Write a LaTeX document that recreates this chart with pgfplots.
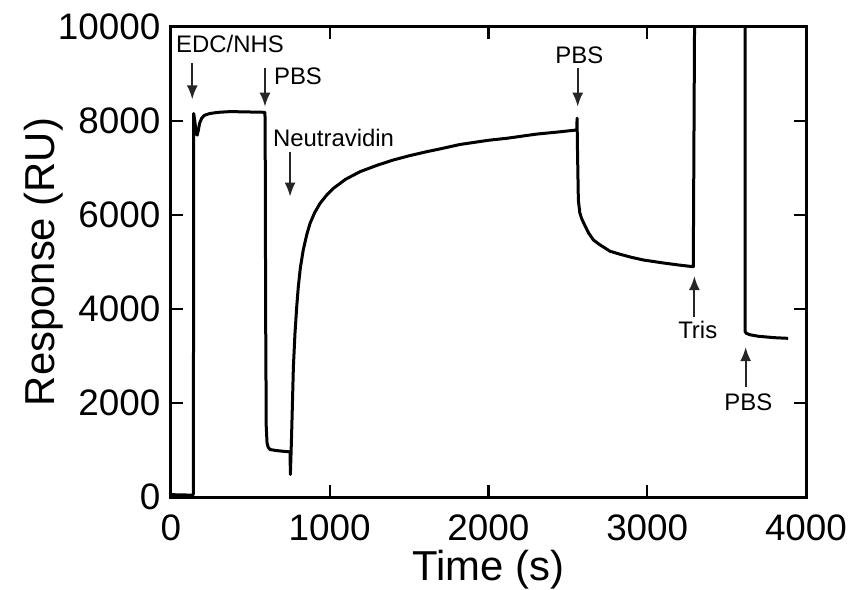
\documentclass[border=0pt]{standalone}
\usepackage{pgfplots}
\pgfplotsset{compat=1.18}
\usepackage{fontspec}
\setmainfont{Liberation Sans}
\usetikzlibrary{arrows.meta}
\begin{document}
\begin{tikzpicture}
\path[use as bounding box] (-171bp,-93bp) rectangle (689bp,497bp);
\begin{axis}[
  scale only axis, width=635bp, height=470bp,
  at={(0,0)}, anchor=south west,
  xmin=0, xmax=4000, ymin=0, ymax=10000,
  xtick={0,1000,2000,3000,4000},
  ytick={0,2000,4000,6000,8000,10000},
  minor tick num=0,
  tick align=inside,
  major tick length=12bp,
  every tick/.style={line width=2.2bp, black},
  axis line style={line width=3bp},
  /pgf/number format/assume math mode=true,
  /pgf/number format/set thousands separator={},
  ticklabel style={font=\fontsize{37}{40}\selectfont},
  xticklabel style={yshift=-14bp},
  yticklabel style={xshift=-7bp},
  scaled ticks=false,
  xlabel={Time (s)},
  ylabel={Response (RU)},
  label style={font=\fontsize{42}{46}\selectfont},
  xlabel style={at={(axis description cs:0.5,-0.155)}, anchor=center},
  ylabel style={at={(axis description cs:-0.2,0.5)}, anchor=center},
  clip=true,
]
\addplot[black, line width=3bp, line join=round] coordinates {
(0,50) (60,45) (135,40) (141,60) (143,8160) (150,8000) (158,7750) (165,7700)
(172,7800) (180,7950) (193,8057) (210,8120) (246,8160) (300,8185) (372,8200)
(450,8195) (520,8190) (592,8185)
(594,7000) (596,4000) (600,1500) (605,1150) (612,1060) (624,1010) (660,990)
(700,975) (750,960) (752,480) (756,900) (760,1355) (771,2772) (781,3482)
(792,4050) (802,4475) (815,4880) (833,5255) (855,5580) (876,5823) (905,6050)
(939,6248) (980,6420) (1023,6567) (1100,6760) (1191,6922) (1300,7060)
(1400,7170) (1500,7260) (1611,7347) (1700,7410) (1820,7500) (2000,7590)
(2115,7632) (2300,7720) (2450,7770) (2556,7809) (2558,8060) (2560,7500)
(2566,6319) (2575,6050) (2586,5930) (2598,5840) (2630,5620) (2661,5468)
(2700,5370) (2765,5230) (2828,5165) (2900,5100) (2975,5043) (3100,4980)
(3200,4935) (3290,4900) (3301,12000) (3616,12000) (3616,3520) (3625,3480)
(3650,3450) (3700,3420) (3800,3390) (3887,3376)
};
\tikzset{ann/.style={font=\fontsize{24}{27}\selectfont, inner sep=0pt},
         arr/.style={black!85, line width=2bp, -{Latex[length=14bp,width=11bp]}}}
\node[ann] at (axis cs:372,9645) {EDC/NHS};
\draw[arr] (axis cs:134,9234) -- (axis cs:134,8460);
\node[ann] at (axis cs:800,8943) {PBS};
\draw[arr] (axis cs:592,9121) -- (axis cs:592,8305);
\node[ann] at (axis cs:1024,7632) {Neutravidin};
\draw[arr] (axis cs:750,7347) -- (axis cs:750,6390);
\node[ann] at (axis cs:2572,9404) {PBS};
\draw[arr] (axis cs:2562,9121) -- (axis cs:2562,8305);
\node[ann] at (axis cs:3318,3553) {Tris};
\draw[arr] (axis cs:3297,3836) -- (axis cs:3297,4700);
\node[ann] at (axis cs:3637,2006) {PBS};
\draw[arr] (axis cs:3620,2347) -- (axis cs:3620,3190);
\end{axis}
\end{tikzpicture}
\end{document}
